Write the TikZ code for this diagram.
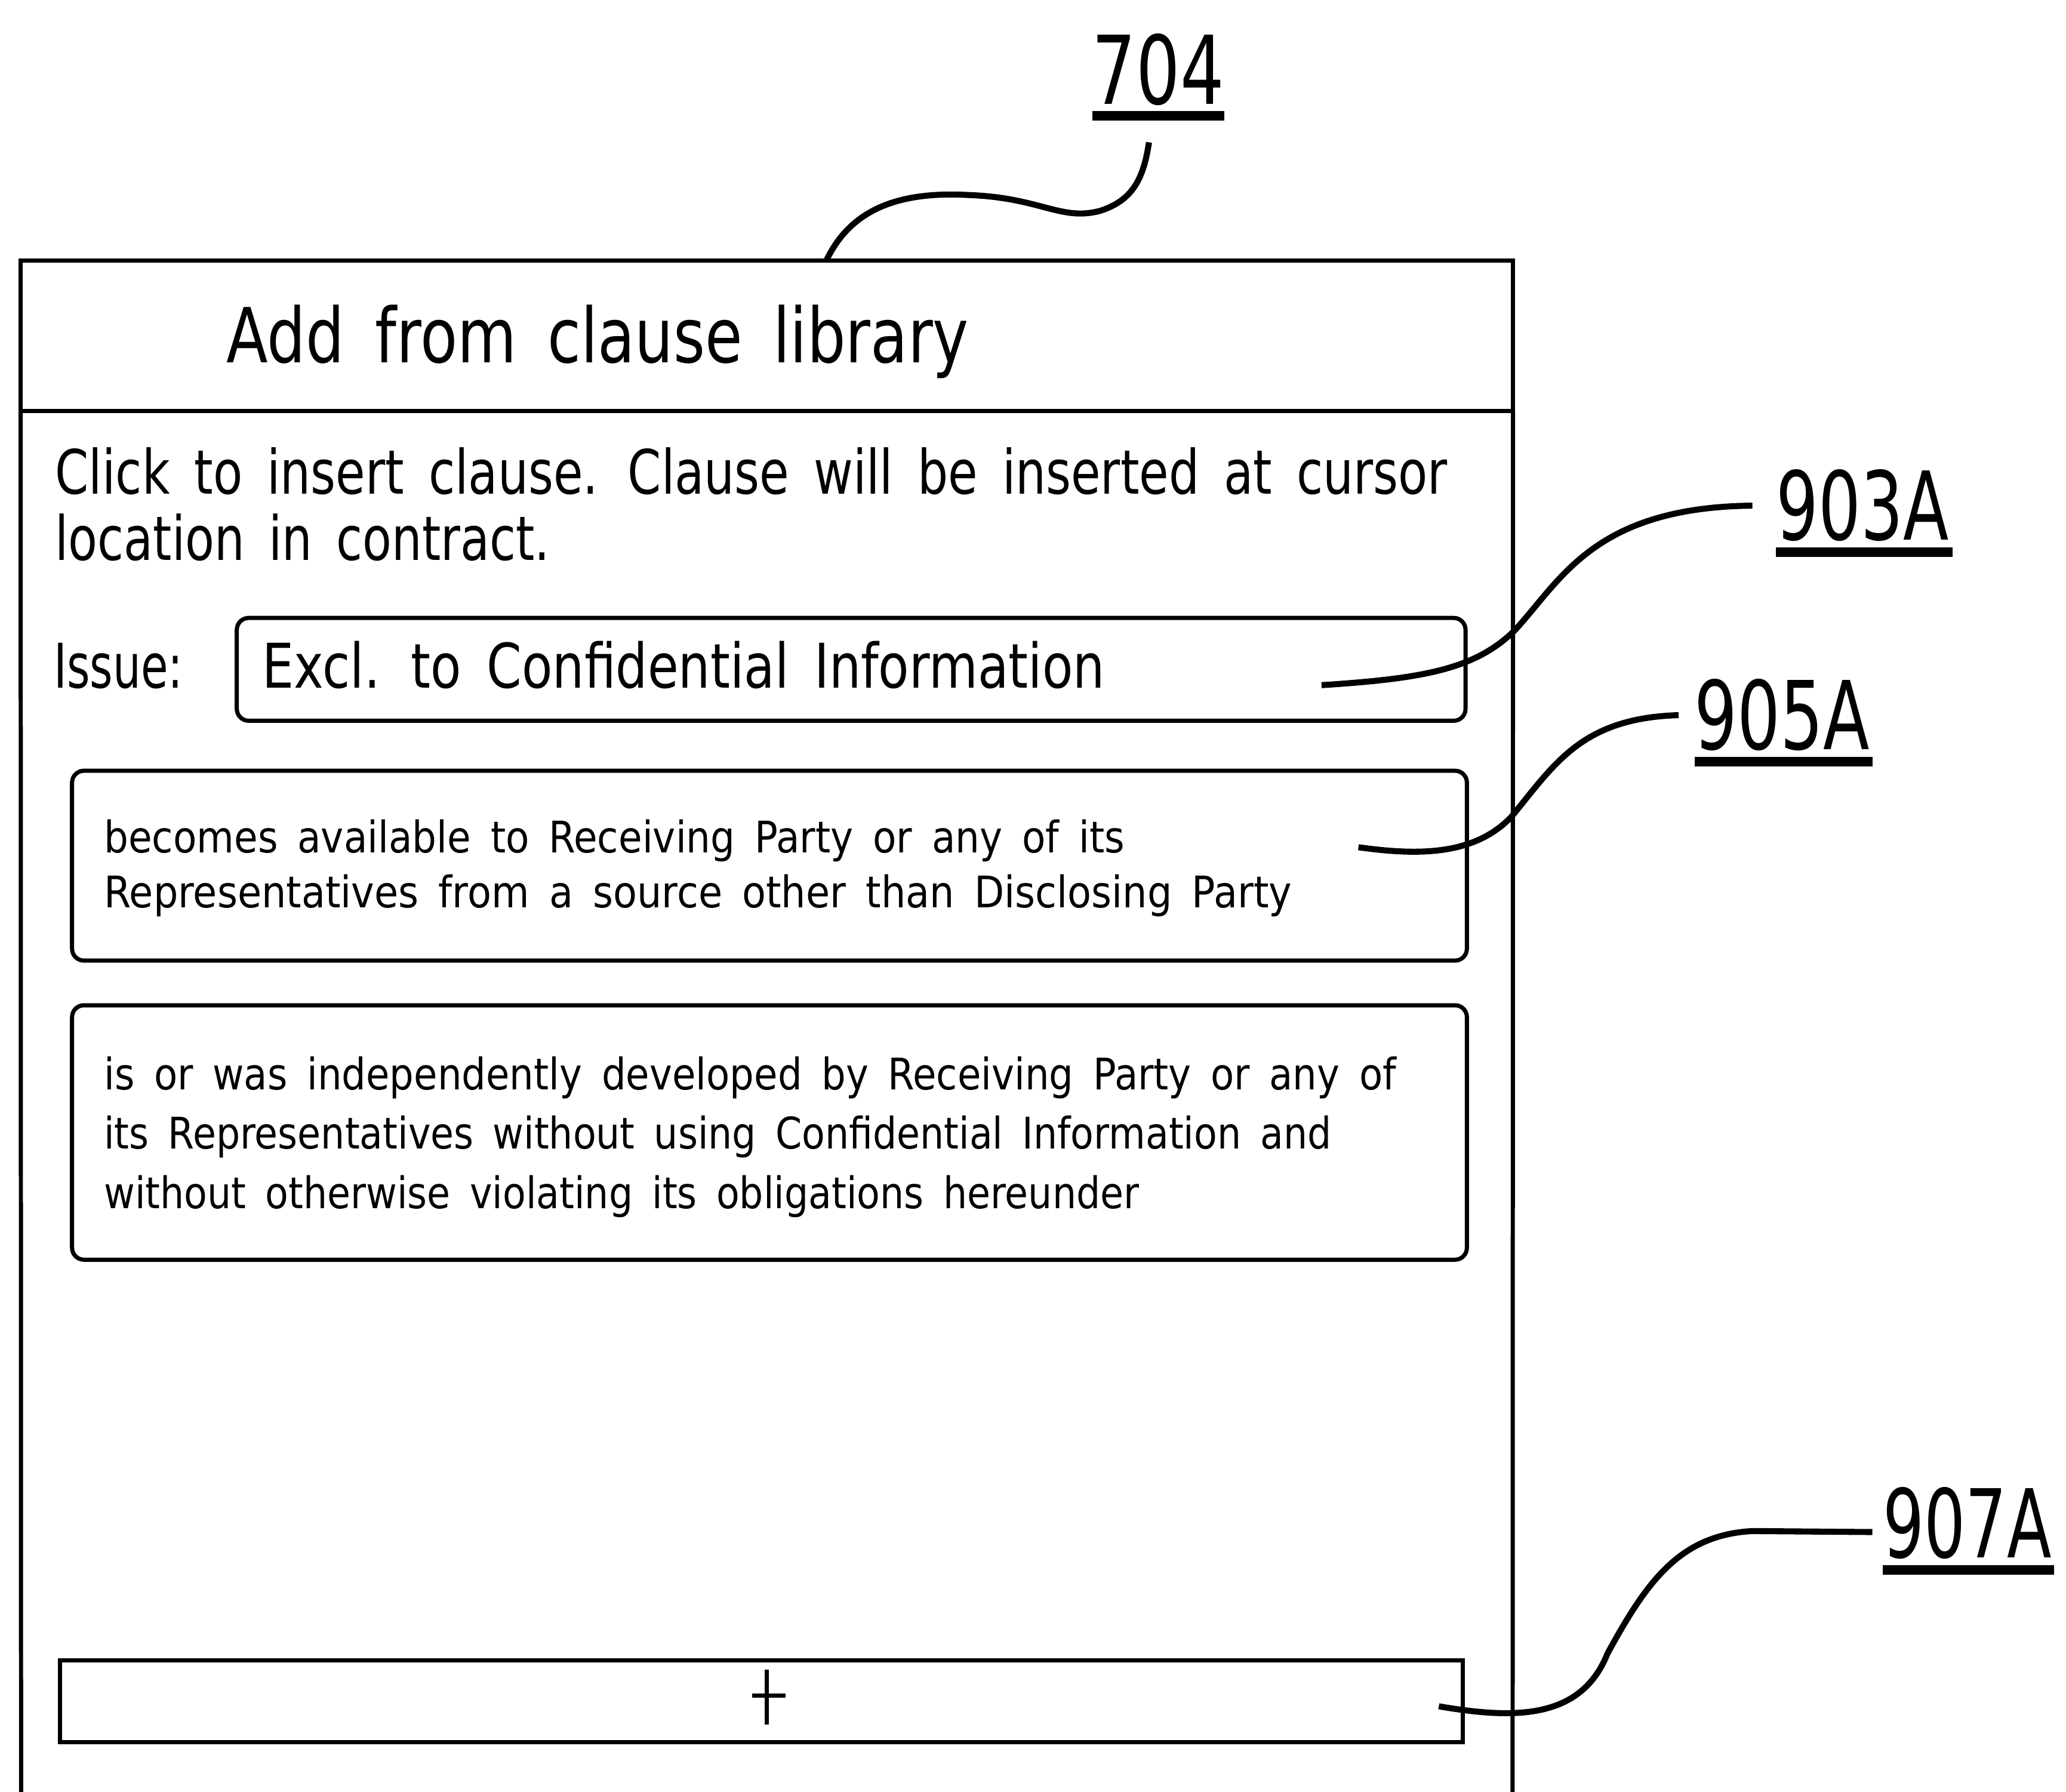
\documentclass[tikz,border=0pt]{standalone}
\usepackage{fontspec}
\setmainfont[WordSpace=1.6]{DejaVu Sans}
\usepackage{graphicx}
\newsavebox\fitbox
\newcommand{\fitto}[2]{\sbox\fitbox{#2}\edef\fitw{\the\wd\fitbox}\pgfmathsetmacro{\fitratio}{#1*0.2845276/\fitw}\scalebox{\fitratio}[1]{\usebox\fitbox}}
\begin{document}
\begin{tikzpicture}[x=0.01cm,y=-0.01cm,
  txt/.style={anchor=base west,inner sep=0pt,outer sep=0pt},
  panel/.style={draw,line width=0.9pt,minimum width=11.32cm,minimum height=1.14cm,inner sep=0pt,outer sep=0pt},
  rbox/.style={draw,line width=0.9pt,rounded corners=0.09cm,inner sep=0pt,outer sep=0pt},
  sbox/.style={draw,line width=0.9pt,inner sep=0pt,outer sep=0pt},
  leader/.style={line width=1.3pt},
  uline/.style={line width=2pt},
  lbl/.style={txt,font=\fontsize{20.5}{24}\selectfont}]
\useasboundingbox (0,0) rectangle (1568,1360);
\fill[white] (0,0) rectangle (1568,1360);
% outer panel
\node[panel] (head) at (582,255) {};
\draw[line width=0.9pt] (head.south west) -- (16,1360);
\draw[line width=0.9pt] (head.south east) -- (1148,1360);
\node[txt,font=\fontsize{16.4}{20}\selectfont] (title) at (172,275) {\fitto{563}{Add from clause library}};
% instructions
\node[txt,font=\fontsize{13.2}{16}\selectfont] (ins1) at (42,375) {\fitto{1056}{Click to insert clause. Clause will be inserted at cursor}};
\node[txt,font=\fontsize{13.2}{16}\selectfont] (ins2) at (42,425) {\fitto{375}{location in contract.}};
% issue
\node[txt,font=\fontsize{13.3}{16}\selectfont] (issue) at (41,522) {\fitto{98}{Issue:}};
\node[rbox,minimum width=9.32cm,minimum height=0.78cm] (issuebox) at (646,508) {};
\node[txt,font=\fontsize{13.3}{16}\selectfont] (issuetxt) at (199,522) {\fitto{639}{Excl. to Confidential Information}};
% clause 1
\node[rbox,minimum width=10.58cm,minimum height=1.44cm] (c1) at (584,657) {};
\node[txt,font=\fontsize{9.4}{12}\selectfont] (c1a) at (79,647) {\fitto{774}{becomes available to Receiving Party or any of its}};
\node[txt,font=\fontsize{9.4}{12}\selectfont] (c1b) at (79,689) {\fitto{901}{Representatives from a source other than Disclosing Party}};
% clause 2
\node[rbox,minimum width=10.58cm,minimum height=1.93cm] (c2) at (584,859.5) {};
\node[txt,font=\fontsize{9.4}{12}\selectfont] (c2a) at (79,827) {\fitto{980}{is or was independently developed by Receiving Party or any of}};
\node[txt,font=\fontsize{9.4}{12}\selectfont] (c2b) at (79,872) {\fitto{931}{its Representatives without using Confidential Information and}};
\node[txt,font=\fontsize{9.4}{12}\selectfont] (c2c) at (79,917) {\fitto{785}{without otherwise violating its obligations hereunder}};
% add button
\node[sbox,minimum width=10.64cm,minimum height=0.62cm] (addbtn) at (578,1291) {};
\coordinate (plusT) at (582,1267);
\coordinate (plusB) at (582,1309);
\coordinate (plusL) at (571,1287);
\coordinate (plusR) at (596,1287);
\draw[line width=0.9pt] (plusT) -- (plusB);
\draw[line width=0.9pt] (plusL) -- (plusR);
% labels
\node[lbl] (l704) at (829,79) {\fitto{100}{704}};
\node[lbl] (l903) at (1348,410) {\fitto{131}{903A}};
\node[lbl] (l905) at (1286,569) {\fitto{133}{905A}};
\node[lbl] (l907) at (1429,1182) {\fitto{128}{907A}};
\draw[uline] ([yshift=-0.09cm]l704.base west) -- ([yshift=-0.09cm]l704.base east);
\draw[uline] ([yshift=-0.09cm]l903.base west) -- ([yshift=-0.09cm,xshift=0.03cm]l903.base east);
\draw[uline] ([yshift=-0.09cm]l905.base west) -- ([yshift=-0.09cm,xshift=0.02cm]l905.base east);
\draw[uline] ([yshift=-0.095cm]l907.base west) -- ([yshift=-0.095cm,xshift=0.02cm]l907.base east);
% leaders
\coordinate (p704) at (627,198);
\coordinate (p903) at (1003,520);
\coordinate (p905) at (1031,643);
\coordinate (p907) at (1092,1295);
\draw[leader] (p704) .. controls (645,160) and (680,145) .. (735,148) .. controls (790,150) and (805,168) .. (835,160) .. controls (860,152) and (868,135) .. ([xshift=-0.07cm,yshift=-0.28cm]l704.south);
\draw[leader] (p903) .. controls (1080,515) and (1120,508) .. (1150,478) .. controls (1185,440) and (1210,385) .. ([xshift=-0.18cm]l903.west);
\draw[leader] (p905) .. controls (1080,650) and (1120,648) .. (1147,620) .. controls (1180,580) and (1200,545) .. ([xshift=-0.12cm]l905.west);
\draw[leader] (p907) .. controls (1150,1305) and (1200,1305) .. (1220,1255) .. controls (1250,1200) and (1275,1165) .. (1330,1162) -- ([xshift=-0.08cm,yshift=-0.07cm]l907.west);
\end{tikzpicture}
\end{document}
